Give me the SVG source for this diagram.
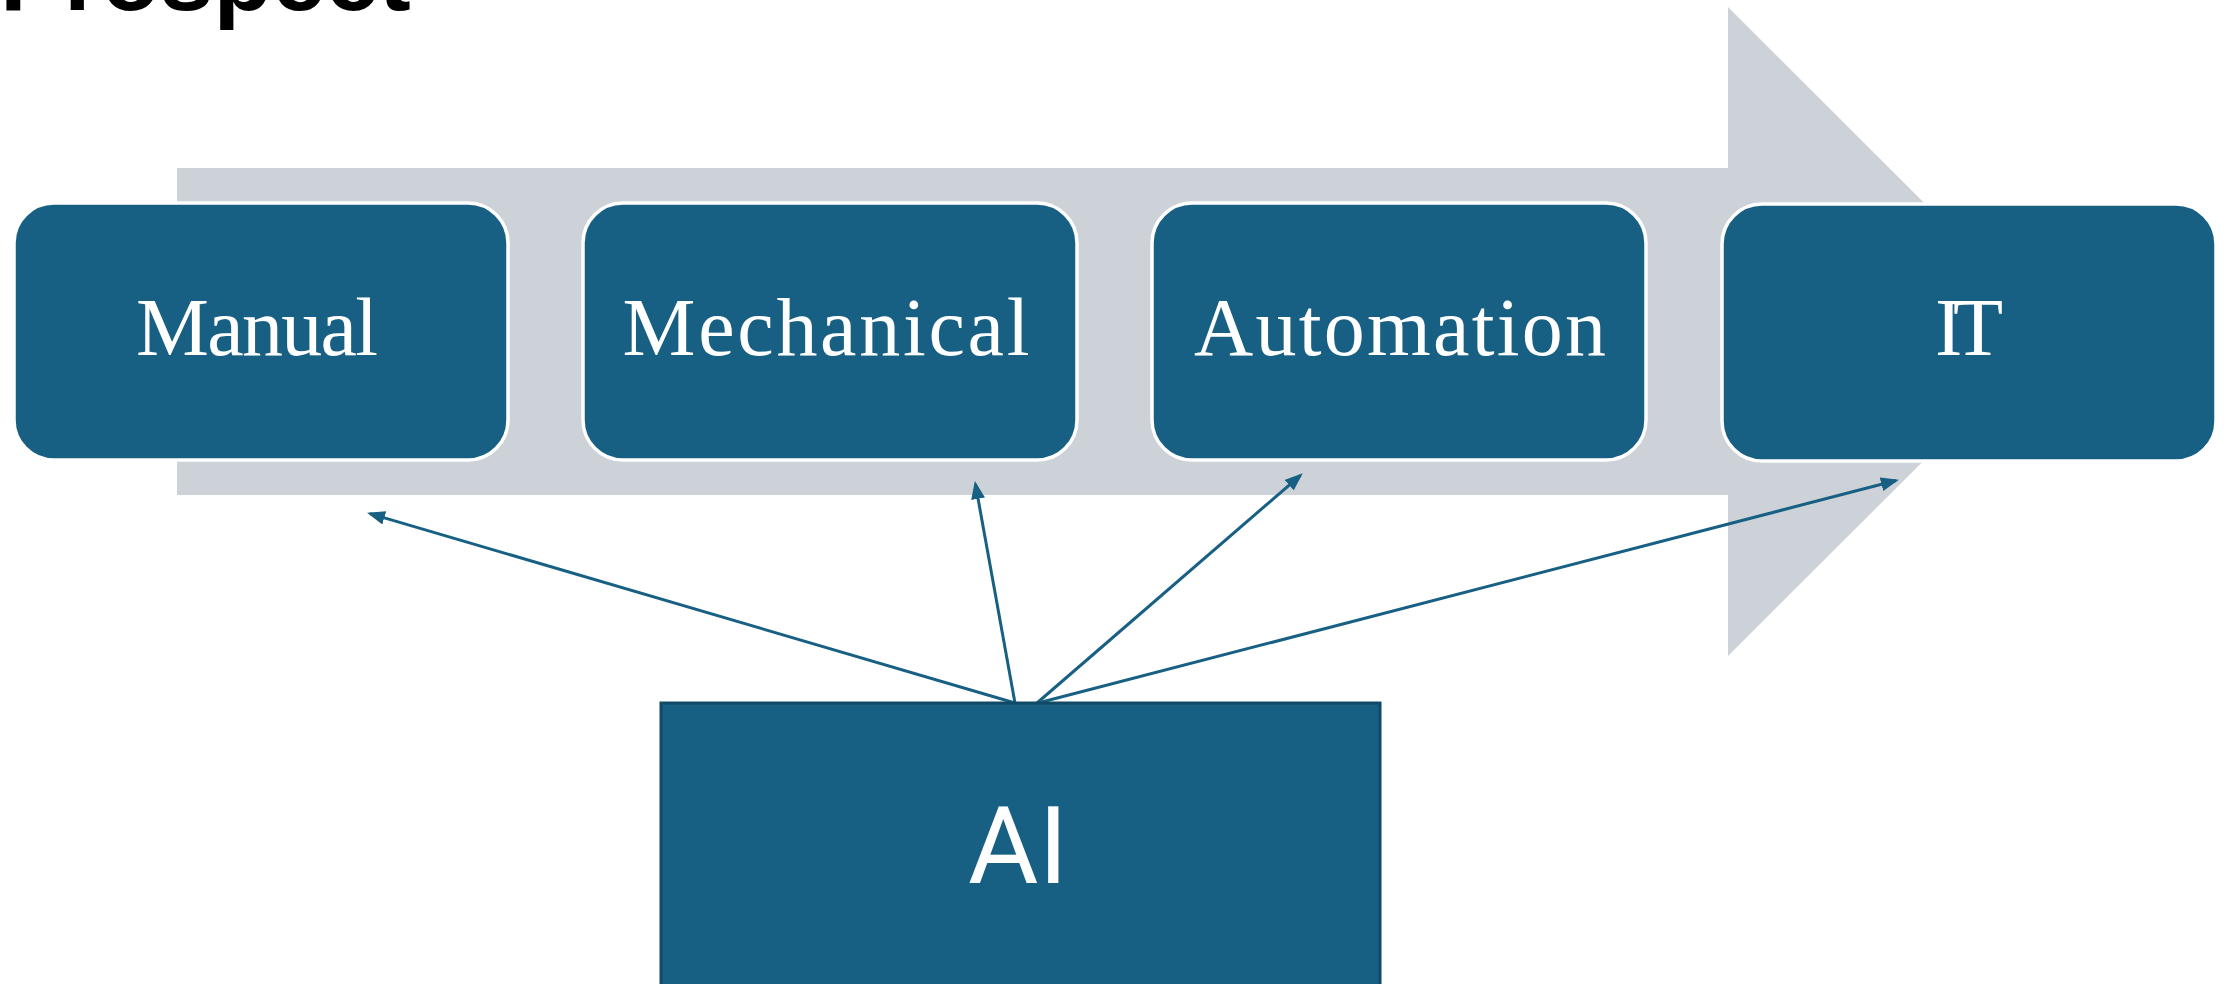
<svg xmlns="http://www.w3.org/2000/svg" width="2226" height="984" viewBox="0 0 2226 984">
<style>
.bg{fill:#ffffff}
.flow{fill:#cdd2d9}
.step{fill:#186083;stroke:#ffffff;stroke-width:3.5}
.steptxt{font-family:"Liberation Serif","DejaVu Serif",serif;font-size:82px;fill:#ffffff;text-anchor:middle}
.ai{fill:#186083;stroke:#114a66;stroke-width:3}
.aitxt{font-family:Roboto,"Liberation Sans",sans-serif;font-size:108px;fill:#ffffff;text-anchor:middle}
.title{font-family:"Liberation Sans","Noto Sans",sans-serif;font-weight:bold;font-size:96px;fill:#000000}
.conn{stroke:#186083;stroke-width:3;fill:none;marker-end:url(#arr)}
</style>
<defs>
<marker id="arr" markerUnits="userSpaceOnUse" markerWidth="18" markerHeight="14" refX="15" refY="7" orient="auto">
<path d="M0,0 L18,7 L0,14 Z" fill="#186083"/>
</marker>
</defs>
<rect class="bg" x="0" y="0" width="2226" height="984"/>
<text class="title" x="0" y="10">Prospect</text>
<g id="flow-arrow">
<polygon class="flow" points="177,168 1728,168 1728,7 2053,331.5 1728,656 1728,495 177,495"/>
</g>
<g id="node-manual">
<rect class="step" x="14" y="203" width="494" height="257" rx="40" ry="40"/>
<text class="steptxt" x="257" y="355" textLength="242" lengthAdjust="spacing">Manual</text>
</g>
<g id="node-mechanical">
<rect class="step" x="583" y="203" width="494" height="257" rx="40" ry="40"/>
<text class="steptxt" x="826" y="355" textLength="407" lengthAdjust="spacing">Mechanical</text>
</g>
<g id="node-automation">
<rect class="step" x="1152" y="203" width="494" height="257" rx="40" ry="40"/>
<text class="steptxt" x="1400" y="355" textLength="412" lengthAdjust="spacing">Automation</text>
</g>
<g id="node-it">
<rect class="step" x="1722" y="204" width="494" height="257" rx="40" ry="40"/>
<text class="steptxt" x="1969" y="355" textLength="68" lengthAdjust="spacing">IT</text>
</g>
<g id="connectors">
<line class="conn" x1="1015" y1="703" x2="369.9" y2="513.6"/>
<line class="conn" x1="1015" y1="703" x2="975.4" y2="484"/>
<line class="conn" x1="1037" y1="703" x2="1300.5" y2="475.3"/>
<line class="conn" x1="1038" y1="703" x2="1896" y2="480.5"/>
</g>
<g id="node-ai">
<rect class="ai" x="661" y="703" width="719" height="300"/>
<text class="aitxt" x="1018" y="883">AI</text>
</g>
</svg>
